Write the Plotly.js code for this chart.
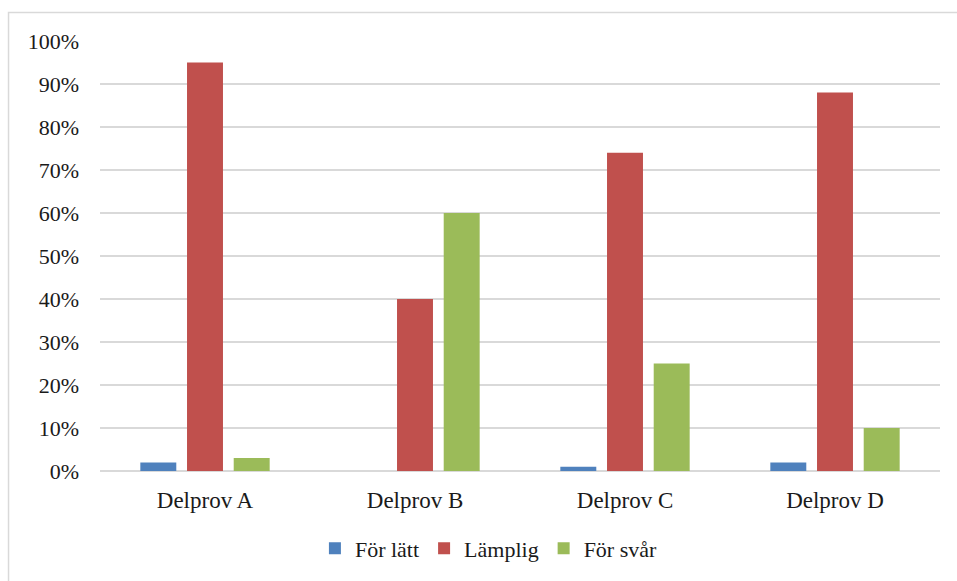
<!DOCTYPE html>
<html>
<head>
<meta charset="utf-8">
<script src="https://cdn.plot.ly/plotly-3.0.1.min.js"></script>
<style>
  html, body { margin: 0; padding: 0; background: #fff; }
  #chart { width: 957px; height: 581px; }
</style>
</head>
<body>
<div id="chart"></div>
<script>
// Bedömning av delprovens svårighetsgrad (andel svar)
const categories = ['Delprov A', 'Delprov B', 'Delprov C', 'Delprov D'];
const forLatt = [0.02, 0.00, 0.01, 0.02];
const lamplig = [0.95, 0.40, 0.74, 0.88];
const forSvar = [0.03, 0.60, 0.25, 0.10];
const seriesNames = ['För lätt', 'Lämplig', 'För svår'];
const seriesColors = ['#4f81bd', '#c0504d', '#9bbb59'];
const yTicks = [0, 0.1, 0.2, 0.3, 0.4, 0.5, 0.6, 0.7, 0.8, 0.9, 1.0];
const yTickText = ['0%', '10%', '20%', '30%', '40%', '50%', '60%', '70%', '80%', '90%', '100%'];

const font = "'Liberation Serif', 'DejaVu Serif', serif";
const textColor = '#1a1a1a';

const traces = [forLatt, lamplig, forSvar].map((vals, i) => ({
  type: 'bar',
  name: seriesNames[i],
  x: categories,
  y: vals,
  marker: { color: seriesColors[i] },
  hoverinfo: 'skip'
}));

const layout = {
  width: 957,
  height: 581,
  margin: { l: 100, r: 17, t: 41, b: 110 },
  paper_bgcolor: '#ffffff',
  plot_bgcolor: '#ffffff',
  barmode: 'group',
  bargap: 0.333,
  bargroupgap: 0.23,
  font: { family: font, size: 22, color: textColor },
  xaxis: {
    showgrid: false,
    showline: false,
    zeroline: false,
    ticks: '',
    tickfont: { family: font, size: 23, color: textColor },
    ticklabelstandoff: 13
  },
  yaxis: {
    range: [0, 1.0],
    tickvals: yTicks,
    ticktext: yTickText,
    showgrid: true,
    gridcolor: '#d9d9d9',
    gridwidth: 1.3,
    zeroline: true,
    zerolinecolor: '#d9d9d9',
    zerolinewidth: 1.3,
    showline: false,
    ticks: '',
    ticklabelstandoff: 20,
    tickfont: { family: font, size: 22, color: textColor }
  },
  legend: {
    orientation: 'h',
    x: 0.463,
    xanchor: 'center',
    y: -0.18,
    yanchor: 'middle',
    font: { family: font, size: 22, color: textColor },
    itemwidth: 30,
    tracegroupgap: 0
  },
  shapes: [{
    type: 'rect',
    xref: 'paper', yref: 'paper',
    x0: -0.1089, x1: 1.05,
    y0: -0.3, y1: 1.0663,
    line: { color: '#d9d9d9', width: 1.5 },
    fillcolor: 'rgba(0,0,0,0)',
    layer: 'below'
  }]
};

Plotly.newPlot('chart', traces, layout, { displayModeBar: false, staticPlot: true });
</script>
</body>
</html>
